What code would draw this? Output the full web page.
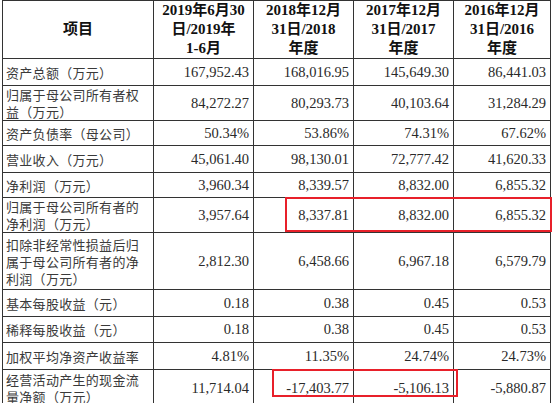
<!DOCTYPE html>
<html><head><meta charset="utf-8">
<script src="https://cdn.jsdelivr.net/npm/chart.js@4"></script>
<style>
html,body{margin:0;padding:0;background:#fff;width:554px;height:403px;overflow:hidden;}
#wrap{position:relative;width:554px;height:403px;}
table{position:absolute;left:2px;top:0;border-collapse:collapse;table-layout:fixed;font-family:"Liberation Serif","Noto Sans CJK SC",serif;font-size:14.5px;color:#2a2a2a;}
td{border:1.5px solid #333;padding:0 4px;line-height:17px;overflow:hidden;}
td.l{text-align:left;font-family:"Noto Sans CJK SC",sans-serif;font-size:13px;letter-spacing:0.3px;color:#3a3a3a;white-space:nowrap;padding:0 2px 0 3px;}
td.n{text-align:right;}
tr.h td{text-align:center;font-weight:bold;font-size:15px;line-height:19px;color:#111;}
.box{position:absolute;border:2px solid #e8202a;}
</style></head><body><div id="wrap">
<table id="t"></table>
<div class="box" style="left:285px;top:197px;width:263px;height:31px"></div>
<div class="box" style="left:272px;top:369px;width:182px;height:24px"></div>
</div>
<script>
const headers=["项目","2019年6月30<br>日/2019年<br>1-6月","2018年12月<br>31日/2018<br>年度","2017年12月<br>31日/2017<br>年度","2016年12月<br>31日/2016<br>年度"];
const categories=["资产总额（万元）","归属于母公司所有者权<br>益（万元）","资产负债率（母公司）","营业收入（万元）","净利润（万元）","归属于母公司所有者的<br>净利润（万元）","扣除非经常性损益后归<br>属于母公司所有者的净<br>利润（万元）","基本每股收益（元）","稀释每股收益（元）","加权平均净资产收益率","经营活动产生的现金流<br>量净额（万元）"];
const col2019=["167,952.43","84,272.27","50.34%","45,061.40","3,960.34","3,957.64","2,812.30","0.18","0.18","4.81%","11,714.04"];
const col2018=["168,016.95","80,293.73","53.86%","98,130.01","8,339.57","8,337.81","6,458.66","0.38","0.38","11.35%","-17,403.77"];
const col2017=["145,649.30","40,103.64","74.31%","72,777.42","8,832.00","8,832.00","6,967.18","0.45","0.45","24.74%","-5,106.13"];
const col2016=["86,441.03","31,284.29","67.62%","41,620.33","6,855.32","6,855.32","6,579.79","0.53","0.53","24.73%","-5,880.87"];
const widths=[151,100,100,100,97];
const heights=[57,27,34,25,27,25,34,57,27,26,27,37];
const t=document.getElementById('t');
let cg='<colgroup>'+widths.map(w=>`<col style="width:${w}px">`).join('')+'</colgroup>';
let h=`<tr class="h" style="height:${heights[0]}px">`+headers.map(x=>`<td>${x}</td>`).join('')+'</tr>';
categories.forEach((c,i)=>{h+=`<tr style="height:${heights[i+1]}px"><td class="l">${c}</td><td class="n">${col2019[i]}</td><td class="n">${col2018[i]}</td><td class="n">${col2017[i]}</td><td class="n">${col2016[i]}</td></tr>`;});
t.innerHTML=cg+h;
</script></body></html>
